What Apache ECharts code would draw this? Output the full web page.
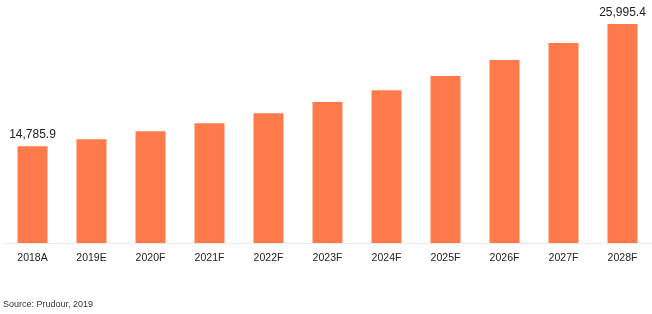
<!DOCTYPE html>
<html>
<head>
<meta charset="utf-8">
<script src="https://cdn.jsdelivr.net/npm/echarts@6/dist/echarts.min.js"></script>
<style>
html,body{margin:0;padding:0;background:#fff;}
#c{width:652px;height:314px;}
</style>
</head>
<body>
<div id="c"></div>
<script>
const categories = ['2018A','2019E','2020F','2021F','2022F','2023F','2024F','2025F','2026F','2027F','2028F'];
const values = [14785.9, 15430, 16160, 16900, 17820, 18830, 19930, 21220, 22690, 24250, 25995.4];
const labelledIdx = [0, 10];
const sourceText = 'Source: Prudour, 2019';

const chart = echarts.init(document.getElementById('c'));
chart.setOption({
  animation: false,
  grid: {left: 3, top: 24, width: 652, height: 219, containLabel: false},
  xAxis: {
    type: 'category',
    data: categories,
    axisLine: {lineStyle: {color: '#ebebeb', width: 1}},
    axisTick: {show: false},
    axisLabel: {color: '#222', fontSize: 10.5, fontFamily: '"Liberation Sans", Arial', margin: 10}
  },
  yAxis: {
    type: 'value', min: 5900, max: 26000, show: false, splitLine: {show: false}
  },
  series: [{
    type: 'bar',
    barWidth: 30,
    itemStyle: {color: '#FF7A4A'},
    data: values.map((v, i) => ({
      value: v,
      label: {
        show: labelledIdx.includes(i),
        position: 'top',
        distance: 5,
        color: '#222',
        fontSize: 12,
        fontFamily: '"Liberation Sans", Arial',
        formatter: p => p.value.toLocaleString('en-US', {minimumFractionDigits: 1, maximumFractionDigits: 1})
      }
    }))
  }],
  graphic: [{
    type: 'text', left: 3, top: 300,
    style: {text: sourceText, fill: '#333', font: '9px "Liberation Sans", Arial'}
  }]
});
</script>
</body>
</html>
